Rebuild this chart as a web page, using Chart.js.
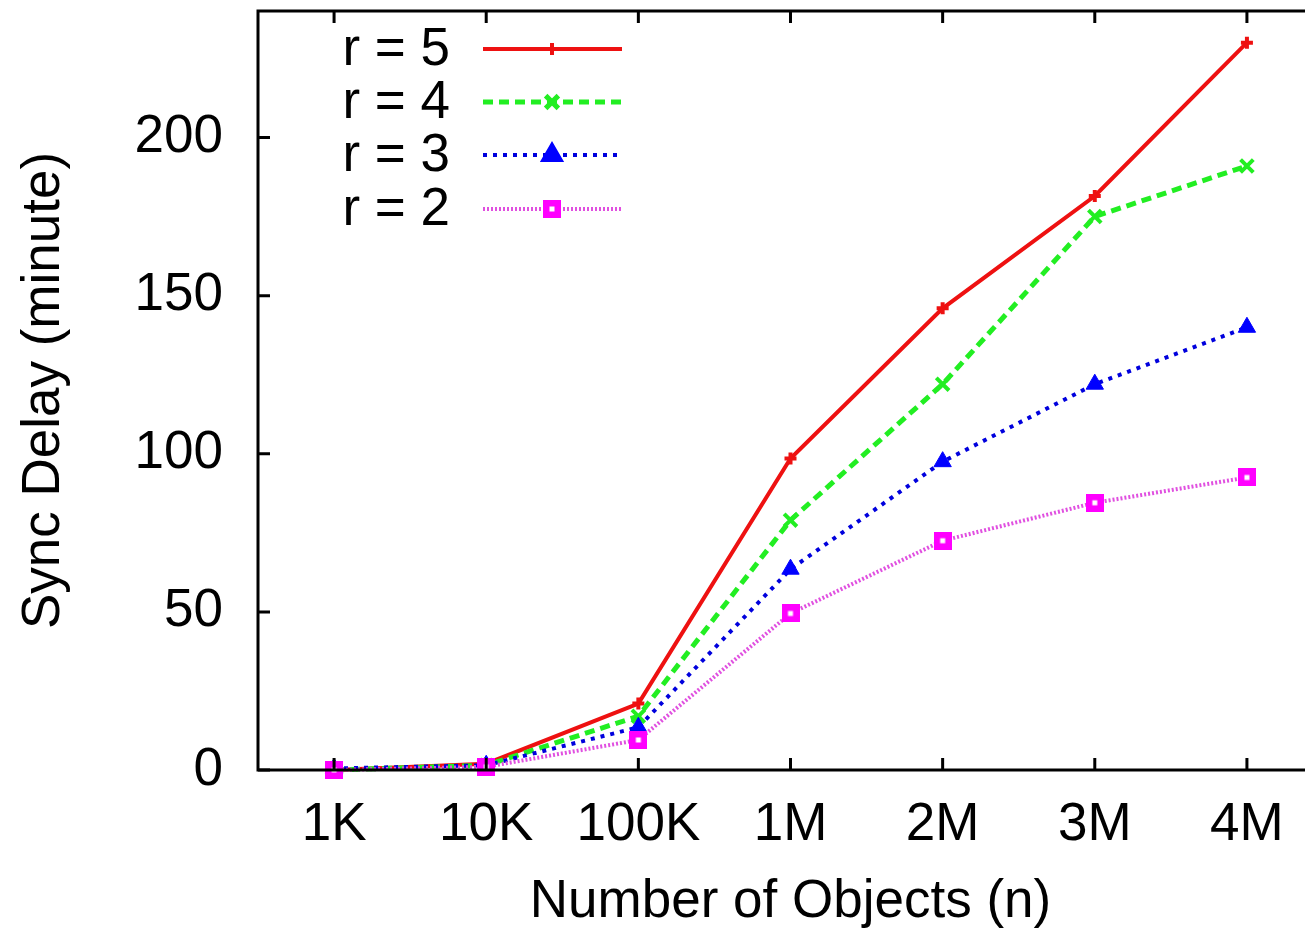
<!DOCTYPE html>
<html>
<head>
<meta charset="utf-8">
<script src="https://cdn.jsdelivr.net/npm/chart.js@4.4.1/dist/chart.umd.min.js"></script>
<style>
    html, body { margin: 0; padding: 0; background: #fff; overflow: hidden; }
    #wrap { width: 1305px; height: 932px; overflow: hidden; }
    #delay { display: block; width: 1330px; height: 932px; }
</style>
</head>
<body>
<div id="wrap"><canvas id="delay" width="1330" height="932"></canvas></div>
<script>
const categories = ['1K', '10K', '100K', '1M', '2M', '3M', '4M'];
const seriesLabels = ['r = 5', 'r = 4', 'r = 3', 'r = 2'];
const r5 = [0, 2, 21, 98.5, 146, 181.5, 230];
const r4 = [0, 1.5, 17, 79, 122, 175, 191];
const r3 = [0.5, 1.5, 13.5, 63.5, 97.5, 122, 140];
const r2 = [0, 1, 9.5, 49.5, 72.5, 84.5, 92.5];
const yTicks = [0, 50, 100, 150, 200];

const FONT = '"Liberation Sans", Arial, Helvetica, sans-serif';
const FONT_SIZE = 53;

// magenta square with a little white hole, like gnuplot's box marker
function makeBoxMarker() {
    const c = document.createElement('canvas');
    c.width = 18;
    c.height = 18;
    const g = c.getContext('2d');
    g.fillStyle = '#ff00ff';
    g.fillRect(0, 0, 18, 18);
    g.fillStyle = '#ffffff';
    g.fillRect(6.5, 6.5, 5, 5);
    return c;
}
const boxMarker = makeBoxMarker();

// frame + inward ticks, gnuplot style
const framePlugin = {
    id: 'frame',
    afterDatasetsDraw(chart) {
        const { ctx, chartArea: a, scales } = chart;
        ctx.save();
        ctx.strokeStyle = '#000';
        ctx.lineWidth = 3;
        ctx.strokeRect(a.left, a.top, a.right - a.left, a.bottom - a.top);
        ctx.beginPath();
        scales.x.ticks.forEach((t, i) => {
            const x = scales.x.getPixelForTick(i);
            ctx.moveTo(x, a.bottom);
            ctx.lineTo(x, a.bottom - 12);
            ctx.moveTo(x, a.top);
            ctx.lineTo(x, a.top + 12);
        });
        scales.y.ticks.forEach((t, i) => {
            const y = scales.y.getPixelForTick(i);
            ctx.moveTo(a.left, y);
            ctx.lineTo(a.left + 12, y);
            ctx.moveTo(a.right, y);
            ctx.lineTo(a.right - 12, y);
        });
        ctx.stroke();
        ctx.restore();
    }
};

// legend in the top-left corner: label, then a sample of the line with its marker
const keyPlugin = {
    id: 'key',
    afterDraw(chart) {
        const { ctx } = chart;
        const rows = [49, 102, 155, 209];
        ctx.save();
        chart.data.datasets.forEach((ds, i) => {
            const y = rows[i];
            ctx.fillStyle = '#000';
            ctx.font = FONT_SIZE + 'px ' + FONT;
            ctx.textAlign = 'right';
            ctx.textBaseline = 'middle';
            ctx.fillText(ds.label, 450, y + 1);

            ctx.strokeStyle = ds.borderColor;
            ctx.lineWidth = ds.borderWidth;
            ctx.setLineDash(ds.borderDash || []);
            ctx.beginPath();
            ctx.moveTo(483, y);
            ctx.lineTo(622, y);
            ctx.stroke();
            ctx.setLineDash([]);

            ctx.fillStyle = ds.pointBackgroundColor;
            ctx.strokeStyle = ds.pointBorderColor;
            Chart.helpers.drawPoint(ctx, {
                pointStyle: ds.pointStyle,
                radius: ds.pointRadius,
                rotation: 0,
                borderWidth: ds.pointBorderWidth
            }, 552, y);
        });
        ctx.restore();
    }
};

// keep the labels from pushing the plot area inward
function noScalePadding(scale) {
    scale.paddingTop = 0;
    scale.paddingBottom = 0;
    scale.paddingLeft = 0;
    scale.paddingRight = 0;
}

const ctx = document.getElementById('delay').getContext('2d');
new Chart(ctx, {
    type: 'line',
    data: {
        labels: categories,
        datasets: [
            {
                label: seriesLabels[0],
                data: r5,
                borderColor: '#ee1111',
                borderWidth: 4,
                pointStyle: 'cross',
                pointRadius: 6,
                pointBorderWidth: 4,
                pointBorderColor: '#ee1111',
                pointBackgroundColor: '#ee1111',
                order: 3
            },
            {
                label: seriesLabels[1],
                data: r4,
                borderColor: '#22ee22',
                borderWidth: 5,
                borderDash: [10, 6],
                pointStyle: 'crossRot',
                pointRadius: 9,
                pointBorderWidth: 4,
                pointBorderColor: '#22ee22',
                pointBackgroundColor: '#22ee22',
                order: 2
            },
            {
                label: seriesLabels[2],
                data: r3,
                borderColor: '#0000dd',
                borderWidth: 4,
                borderDash: [4, 6],
                pointStyle: 'triangle',
                pointRadius: 10,
                pointBorderWidth: 1,
                pointBorderColor: '#0000ff',
                pointBackgroundColor: '#0000ff',
                order: 1
            },
            {
                label: seriesLabels[3],
                data: r2,
                borderColor: '#e050e0',
                borderWidth: 4,
                borderDash: [2, 2],
                pointStyle: boxMarker,
                pointRadius: 9,
                pointBorderWidth: 0,
                pointBorderColor: '#ff00ff',
                pointBackgroundColor: '#ff00ff',
                order: 0
            }
        ]
    },
    options: {
        responsive: false,
        animation: false,
        devicePixelRatio: 1,
        clip: false,
        layout: { autoPadding: false, padding: { top: 11, right: 7, left: 0, bottom: 0 } },
        elements: { line: { tension: 0 } },
        plugins: {
            legend: { display: false },
            tooltip: { enabled: false }
        },
        scales: {
            x: {
                offset: true,
                grid: { display: false, drawTicks: false },
                border: { display: false },
                ticks: {
                    color: '#000',
                    padding: 24,
                    maxRotation: 0,
                    font: { family: FONT, size: FONT_SIZE }
                },
                title: {
                    display: true,
                    text: 'Number of Objects (n)',
                    color: '#000',
                    padding: { top: 0, bottom: -2 },
                    font: { family: FONT, size: FONT_SIZE }
                },
                afterFit(scale) {
                    scale.height = 162;
                    noScalePadding(scale);
                }
            },
            y: {
                min: 0,
                max: 240,
                grid: { display: false, drawTicks: false },
                border: { display: false },
                ticks: {
                    color: '#000',
                    padding: 35,
                    font: { family: FONT, size: FONT_SIZE }
                },
                afterBuildTicks(scale) {
                    scale.ticks = yTicks.map((v) => ({ value: v }));
                },
                title: {
                    display: true,
                    text: 'Sync Delay (minute)',
                    color: '#000',
                    padding: { top: 13, bottom: 0 },
                    font: { family: FONT, size: FONT_SIZE }
                },
                afterFit(scale) {
                    scale.width = 258;
                    noScalePadding(scale);
                }
            }
        }
    },
    plugins: [framePlugin, keyPlugin]
});
</script>
</body>
</html>
